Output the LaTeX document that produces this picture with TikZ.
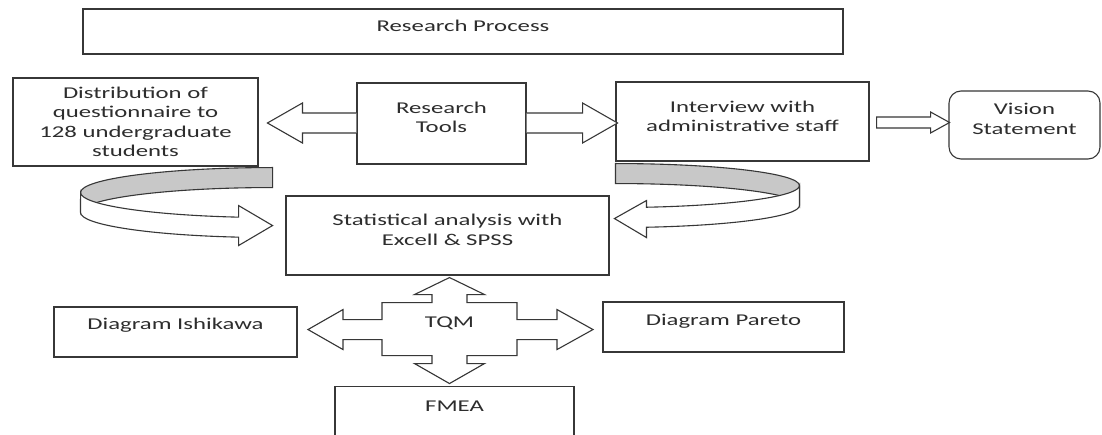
\documentclass[tikz,border=0pt]{standalone}
\usepackage{fontspec}
\setmainfont{Carlito}[FakeStretch=1.5]
\usetikzlibrary{calc}
\definecolor{linegray}{RGB}{55,55,55}
\definecolor{textgray}{RGB}{45,45,45}
\definecolor{bandgray}{RGB}{200,200,200}
% invisible depth on the last line: lifts the text inside its box
\newcommand{\pushup}[1]{\rule[-#1]{0pt}{#1}}
\tikzset{
  box/.style={draw=linegray, line width=1.1pt, fill=white, align=center, inner sep=0pt,
    text=textgray, font=\fontsize{16.5}{19.5}\selectfont},
  blockarrow/.style={draw=linegray, line width=1.1pt, fill=white, line join=miter},
  backband/.style={draw=linegray, line width=1.1pt, fill=bandgray},
}

\begin{document}
\begin{tikzpicture}[x=1pt, y=1pt]
    \fill[white] (0,0) rectangle (1102,434);
    \useasboundingbox (0,0) rectangle (1102,434);

    % boxes
    \node[box, minimum width=760pt, minimum height=45pt] (process) at (463,402.5) {Research Process\pushup{11pt}};
    \node[box, minimum width=245pt, minimum height=88pt] (dist) at (135.5,312) {Distribution of\\questionnaire to\\128 undergraduate\\students};
    \node[box, minimum width=169pt, minimum height=81pt] (tools) at (441.5,310.5) {Research\\Tools\pushup{12pt}};
    \node[box, minimum width=253pt, minimum height=79pt] (interview) at (742.5,312.5) {Interview with\\administrative staff\pushup{10pt}};
    \node[box, rounded corners=12pt, minimum width=151pt, minimum height=68pt] (vision) at (1024.5,309) {Vision\\Statement\pushup{12pt}};
    \node[box, minimum width=323pt, minimum height=79pt] (stat) at (447.5,198.5) {Statistical analysis with\\Excell \& SPSS\pushup{11pt}};
    \node[box, minimum width=243pt, minimum height=50pt] (ishikawa) at (175.5,102) {Diagram Ishikawa\pushup{15.5pt}};
    \node[box, minimum width=241pt, minimum height=50pt] (pareto) at (723.5,107) {Diagram Pareto\pushup{13.5pt}};
    \node[box, anchor=north, minimum width=239pt, minimum height=60pt] (fmea) at (454.5,48) {FMEA\pushup{20pt}};

    % research tools -> both sides
    \draw[blockarrow] ($(tools.west)+(0,10.5)$) -- ++(-54,0) -- ++(0,10) -- ++(-35,-20) -- ++(35,-20) -- ++(0,10) -- ++(54,0);
    \draw[blockarrow] ($(tools.east)+(0,10.5)$) -- ++(56,0) -- ++(0,10) -- ++(35,-20) -- ++(-35,-20) -- ++(0,10) -- ++(-56,0);

    % interview -> vision
    \draw[blockarrow] ($(interview.east)+(7,4.5)$) -- ++(54,0) -- ++(0,5) -- ++(19,-10.5) -- ++(-19,-10.5) -- ++(0,5) -- ++(-54,0) -- cycle;

    % curved arrows into the analysis box
    \coordinate (lbend) at ($(dist.south east)+(14,-26)$);
    \coordinate (rbend) at ($(interview.south west)+(0,-24)$);
    \begin{scope}[shift={(lbend)}]
        \draw[backband] (0,25) arc[start angle=90, end angle=180, x radius=192, y radius=25]
            -- (-192,-20) arc[start angle=180, end angle=90, x radius=192, y radius=25] -- cycle;
        \draw[blockarrow] (-192,0) arc[start angle=180, end angle=259.8, x radius=192, y radius=25]
            -- (-34,-13) -- (0,-33) -- (-34,-53)
            -- (-34,-44.6) arc[start angle=259.8, end angle=180, x radius=192, y radius=25] -- cycle;
    \end{scope}
    \begin{scope}[shift={(rbend)}]
        \draw[backband] (0,22) arc[start angle=90, end angle=0, x radius=184, y radius=22]
            -- (184,-20) arc[start angle=0, end angle=90, x radius=184, y radius=22] -- cycle;
        \draw[blockarrow] (184,0) arc[start angle=0, end angle=-80.3, x radius=184, y radius=22]
            -- (31,-15) -- (-1,-33) -- (31,-52)
            -- (31,-41.7) arc[start angle=-80.3, end angle=0, x radius=184, y radius=22] -- cycle;
    \end{scope}

    % TQM cross
    \coordinate (hub) at ($(stat.south)+(2,-54)$);
    \draw[blockarrow, shift={(hub)}] (0,52) -- (35,35) -- (17.5,35) -- (17.5,27) -- (67.5,27) -- (67.5,10)
        -- (107.5,10) -- (107.5,20) -- (143.5,0) -- (107.5,-20) -- (107.5,-10) -- (67.5,-10)
        -- (67.5,-26) -- (17.5,-26) -- (17.5,-34) -- (35,-34) -- (0,-54) -- (-35,-34) -- (-17.5,-34)
        -- (-17.5,-26) -- (-67.5,-26) -- (-67.5,-10) -- (-106.5,-10) -- (-106.5,-20) -- (-141.5,0)
        -- (-106.5,20) -- (-106.5,10) -- (-67.5,10) -- (-67.5,27) -- (-17.5,27) -- (-17.5,35) -- (-35,35) -- cycle;
    \node[text=textgray, font=\fontsize{16.5}{19.5}\selectfont] (tqm) at ($(hub)+(0,6)$) {TQM};
\end{tikzpicture}
\end{document}
